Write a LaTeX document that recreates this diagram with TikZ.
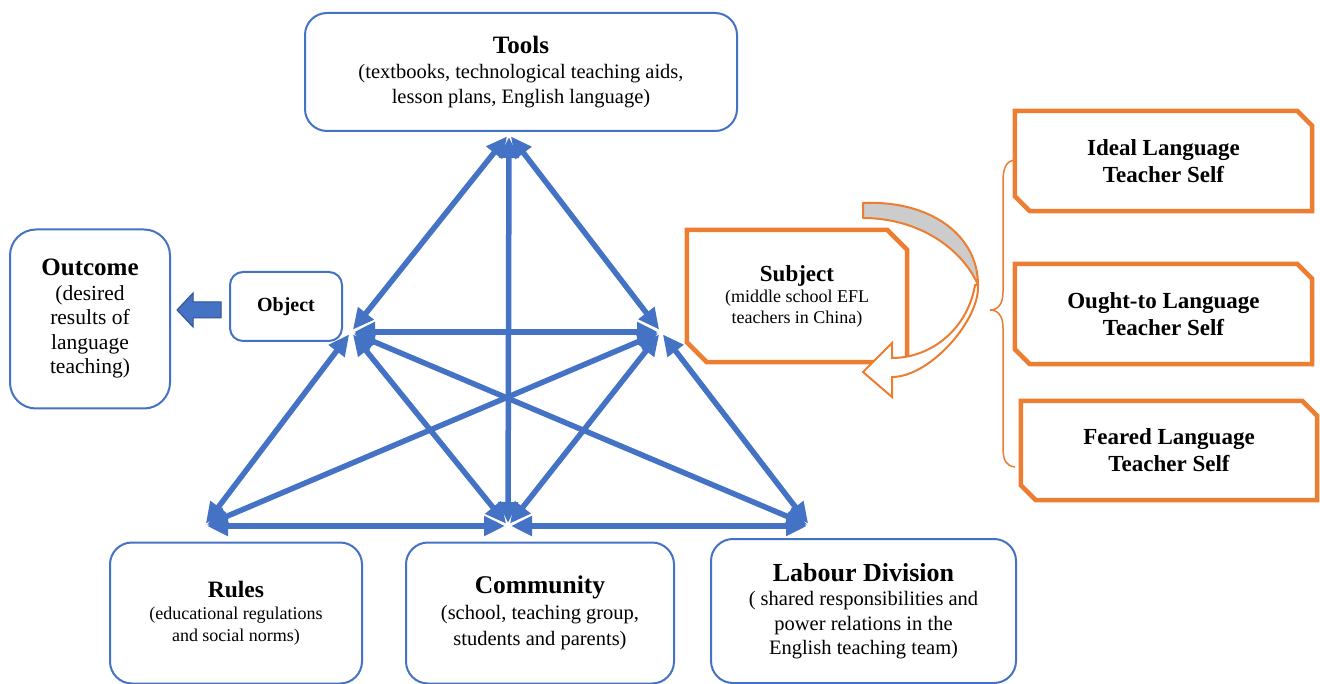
\documentclass[tikz,border=0pt]{standalone}
\usepackage{fontspec}
\setmainfont{Liberation Serif}
\usetikzlibrary{arrows.meta,calc}

\definecolor{tblue}{HTML}{4472C4}
\definecolor{tbluedark}{HTML}{2F528F}
\definecolor{torange}{HTML}{ED7D31}
\definecolor{tgray}{HTML}{CCCCCC}

\newcommand{\fsz}[2]{\fontsize{#1}{#2}\selectfont}
% orange frame with the north-east and south-west corners cut off
\newcommand{\snipframe}[2]{%
  \draw[oframe] (#1.north west) -- ($(#1.north east)+(-#2,0)$) -- ($(#1.north east)+(0,#2)$)
    -- (#1.south east) -- ($(#1.south west)+(#2,0)$) -- ($(#1.south west)+(0,-#2)$) -- cycle;}

\tikzset{
  rbox/.style={draw=tblue, line width=2pt, rounded corners=22pt, fill=white,
    align=center, inner sep=0pt},
  obox/.style={align=center, inner sep=0pt},
  oframe/.style={draw=torange, line width=4.5pt, line join=miter},
  link/.style={draw=tblue, line width=5.5pt,
    {Triangle[length=21pt,width=19pt]}-{Triangle[length=21pt,width=19pt]},
    shorten <=3pt, shorten >=3pt},
}

\begin{document}
\begin{tikzpicture}[x=1pt, y=-1pt]
\useasboundingbox (0,0) rectangle (1320,684);
\fill[white] (0,0) rectangle (1320,684);

% vertices of the activity triangle
\coordinate (vT)  at (509,134);
\coordinate (vL)  at (351,332);
\coordinate (vR)  at (661,332);
\coordinate (vBL) at (204,526);
\coordinate (vBM) at (508,526);
\coordinate (vBR) at (810,526);

% two-way links between the components
\draw[link] (vL) -- (vT);
\draw[link] (vR) -- (vT);
\draw[link] (vBM) -- (vT);
\draw[link] (vL) -- (vR);
\draw[link] (vL) -- (vBL);
\draw[link] (vL) -- (vBM);
\draw[link] (vL) -- (vBR);
\draw[link] (vR) -- (vBR);
\draw[link] (vR) -- (vBM);
\draw[link] (vR) -- (vBL);
\draw[link] (vBL) -- (vBM);
\draw[link] (vBM) -- (vBR);

% blue boxes
\node[rbox, minimum width=432pt, minimum height=118pt, font=\fsz{20.5}{25}] (tools) at (521,72)
  {{\fsz{25}{30}\bfseries Tools}\\(textbooks, technological teaching aids,\\lesson plans, English language)};
\node[rbox, minimum width=160pt, minimum height=179pt, rounded corners=26pt, font=\fsz{21.5}{24.5}] (outcome) at (90,319)
  {{\fsz{25}{28}\bfseries Outcome}\\(desired\\results of\\language\\teaching)};
\node[rbox, minimum width=112pt, minimum height=69pt, rounded corners=13pt, font=\fsz{20}{24}\bfseries] (object) at (286,306.5)
  {Object};
\node[rbox, minimum width=252pt, minimum height=141pt, font=\fsz{18}{22}] (rules) at (236,613)
  {{\fsz{23.5}{27}\bfseries Rules}\\(educational regulations\\and social norms)};
\node[rbox, minimum width=268pt, minimum height=141pt, font=\fsz{20.5}{26}] (community) at (540,613)
  {{\fsz{25.5}{29}\bfseries Community}\\(school, teaching group,\\students and parents)};
\node[rbox, minimum width=305pt, minimum height=144pt, font=\fsz{20.5}{24.5}] (labour) at (863.5,611)
  {{\fsz{26}{29}\bfseries Labour Division}\\( shared responsibilities and\\power relations in the\\English teaching team)};

% object leads to outcome
\draw[tbluedark, line width=1pt, fill=tblue]
  (177,310) -- (193,293) -- (193,302) -- (221,302) -- (221,318) -- (193,318) -- (193,327) -- cycle;

% subject and the three selves
\node[obox, minimum width=220pt, minimum height=132pt, font=\fsz{18}{21}] (subject) at (797,296)
  {{\fsz{23}{27}\bfseries Subject}\\(middle school EFL\\teachers in China)};
\node[obox, minimum width=297pt, minimum height=100pt, font=\fsz{23}{27}\bfseries] (ideal) at (1163.5,161)
  {Ideal Language\\Teacher Self};
\node[obox, minimum width=297pt, minimum height=100pt, font=\fsz{23}{27}\bfseries] (ought) at (1163.5,314)
  {Ought-to Language\\Teacher Self};
\node[obox, minimum width=296pt, minimum height=99pt, font=\fsz{23}{27}\bfseries] (feared) at (1169,450.5)
  {Feared Language\\Teacher Self};
\snipframe{subject}{20}
\snipframe{ideal}{15}
\snipframe{ought}{15}
\snipframe{feared}{15}

% curved arrow returning to the subject
\draw[torange, line width=2pt, fill=tgray, line join=round]
  (863,203) .. controls (930,200) and (978,235) .. (978,285)
  .. controls (962,248) and (918,218) .. (863,218) -- cycle;
\draw[torange, line width=2pt, fill=white, line join=miter]
  (978,285) .. controls (980,320) and (930,377) .. (892,377)
  -- (892,397) -- (863,372) -- (892,343) -- (892,358)
  .. controls (932,358) and (968,328) .. (975,285) -- cycle;

% brace grouping the selves
\draw[torange, line width=1.5pt]
  (1015,160) .. controls (1006,161) and (1003,168) .. (1003,182) -- (1003,292)
  .. controls (1003,304) and (998,310) .. (990,310)
  .. controls (998,310) and (1003,316) .. (1003,328) -- (1003,448)
  .. controls (1003,460) and (1006,466) .. (1015,467);
\end{tikzpicture}
\end{document}
